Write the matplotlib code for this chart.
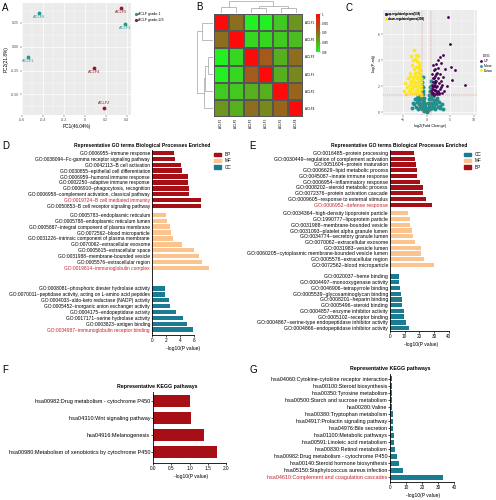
import matplotlib
matplotlib.use("Agg")
import matplotlib.pyplot as plt
import numpy as np
from matplotlib.colors import LinearSegmentedColormap
from matplotlib.lines import Line2D
from matplotlib.patches import Patch

plt.rcParams["font.family"] = ["Liberation Sans", "DejaVu Sans"]

W, H = 496, 500

# ---- panel A: PCA ----
pca_names = ["ACLF6", "ACLF5", "ACLF3", "ACLF1", "ACLF4", "ACLF2"]
pca_pc1 = [-0.44, 0.345, 0.38, -0.545, 0.09, 0.18]
pca_pc2 = [0.355, 0.41, 0.24, -0.11, -0.22, -0.64]
pca_group = ["ACLF grade-1", "ACLF grade-2/3", "ACLF grade-1", "ACLF grade-1",
             "ACLF grade-2/3", "ACLF grade-2/3"]

# ---- panel B: correlation heatmap ----
heat_labels = ["ACLF1", "ACLF6", "ACLF3", "ACLF5", "ACLF2", "ACLF4"]
heat_corr = [
    [1.000, 0.990, 0.980, 0.980, 0.983, 0.987],
    [0.990, 1.000, 0.982, 0.982, 0.983, 0.984],
    [0.980, 0.982, 1.000, 0.992, 0.985, 0.990],
    [0.980, 0.982, 0.992, 1.000, 0.985, 0.988],
    [0.983, 0.983, 0.985, 0.985, 1.000, 0.991],
    [0.987, 0.985, 0.990, 0.988, 0.991, 1.000],
]
# merges in leaf order: (node a, node b, height); new nodes numbered from 6
row_tree = [(2, 3, 0.35), (6, 4, 0.5), (7, 5, 0.6), (0, 1, 0.7), (9, 8, 1.0)]
col_tree = [(2, 3, 0.4), (4, 5, 0.45), (6, 7, 0.6), (0, 1, 0.5), (9, 8, 1.0)]
cbar_ticks = [0.98, 0.985, 0.99, 0.995, 1.0]
cbar_ticklabels = ["0.98", "0.985", "0.99", "0.995", "1"]

# ---- panel C: volcano ----
up_x = [1.1, 1.2, 1.3, 1.2, 1.4, 1.5, 1.6, 1.5, 1.7, 1.8, 1.9, 1.9, 2.0, 2.1, 2.2, 2.2,
        2.3, 2.4, 2.5, 2.5, 2.6, 2.7, 2.8, 2.9, 3.0, 3.1, 3.2, 3.3, 3.4, 2.8, 2.4, 3.6,
        3.8, 4.0, 4.3, 4.6, 4.9, 5.3, 5.5, 6.0, 8.1, 1.3, 1.8, 2.0, 1.1, 1.6, 1.4, 1.7,
        2.1, 1.2, 1.5, 2.3, 1.0, 1.9, 2.6, 3.0, 1.3, 2.0]
up_y = [1.4, 1.8, 2.3, 2.9, 1.5, 2.1, 2.6, 3.2, 1.7, 2.2, 1.4, 2.8, 1.9, 2.4, 1.5, 3.0,
        2.0, 2.6, 1.6, 3.4, 2.2, 1.4, 2.9, 1.8, 2.4, 3.8, 1.5, 2.1, 4.4, 4.2, 4.0, 2.7,
        1.6, 3.3, 2.0, 7.3, 5.2, 3.5, 2.5, 3.2, 2.1, 3.6, 3.3, 3.7, 2.1, 1.3, 1.9, 2.4,
        1.6, 1.5, 1.7, 1.4, 1.6, 2.0, 1.5, 1.9, 2.6, 2.9]
down_x = [-1.1, -1.2, -1.3, -1.1, -1.4, -1.5, -1.6, -1.7, -1.8, -1.9, -2.0, -2.0, -2.1,
          -2.2, -2.3, -2.4, -2.5, -2.5, -2.6, -2.7, -2.8, -2.9, -3.0, -3.1, -3.2, -3.3,
          -3.4, -3.5, -3.6, -3.8, -3.9, -4.1, -4.3, -4.5, -1.3, -1.7, -2.2, -1.2, -1.5,
          -1.8, -2.1, -2.4, -2.7, -3.0, -1.1, -1.4, -1.6, -1.9, -2.3, -2.6, -1.2, -1.8,
          -2.0, -2.8, -3.2, -1.4, -4.7, -2.9, -1.5, -2.2, -3.6, -2.5, -1.9, -3.4]
down_y = [1.4, 1.8, 2.2, 2.6, 1.5, 2.0, 2.8, 1.6, 2.3, 3.1, 1.4, 2.0, 2.6, 3.5, 1.7, 2.3,
          3.0, 4.1, 4.8, 1.5, 2.0, 2.7, 3.6, 1.8, 2.4, 4.3, 1.5, 3.0, 2.1, 1.6, 2.6, 1.9,
          1.4, 2.2, 3.2, 3.8, 4.4, 1.3, 2.5, 1.9, 1.6, 2.9, 3.3, 2.3, 2.0, 1.8, 3.4, 1.5,
          2.7, 2.0, 2.3, 2.7, 3.9, 2.5, 1.8, 2.9, 1.6, 4.0, 3.6, 1.5, 2.8, 2.1, 4.3, 2.3]
none_x = [-3.0, -2.6, -2.4, -2.2, -2.0, -1.9, -1.8, -1.6, -1.5, -1.4, -1.2, -1.1, -1.0,
          -0.9, -0.8, -0.7, -0.6, -0.5, -0.4, -0.3, -0.2, 0.0, 0.2, 0.3, 0.4, 0.5, 0.6,
          0.7, 0.8, 0.9, 1.0, 1.1, 1.3, 1.4, 1.6, 1.7, 1.9, 2.0, 2.2, 2.4, 2.6, 2.9, 3.2,
          3.5, -0.9, -0.8, -0.9, -0.7, -0.6, -0.85, -0.5, -0.4, 0.4, 0.5, 0.6, 0.7, 0.8,
          0.9, 0.75, 0.9, -0.95, 0.95, -0.1, 0.1, -1.3, 1.2, -2.8, 2.8, -0.65, 0.65,
          -2.1, -1.7, -1.3, -0.9, 0.9, 1.5, 1.8, 2.3, -0.75, 0.75, -1.0, 1.0]
none_y = [0.3, 0.6, 1.0, 0.4, 0.8, 1.2, 0.2, 0.6, 1.0, 0.3, 0.7, 1.1, 0.2, 0.5, 0.9, 0.3,
          0.6, 0.1, 0.4, 0.2, 0.05, 0.02, 0.1, 0.3, 0.15, 0.5, 0.3, 0.7, 0.2, 0.5, 1.0,
          0.3, 0.7, 1.2, 0.4, 0.9, 0.2, 0.6, 1.1, 0.4, 0.8, 0.3, 0.6, 0.2, 1.5, 1.9, 2.3,
          1.4, 1.1, 2.7, 0.8, 0.6, 0.7, 1.0, 1.3, 1.6, 1.9, 2.4, 1.2, 1.4, 2.0, 2.0, 0.15,
          0.2, 0.4, 0.5, 0.7, 0.5, 1.6, 1.6, 1.1, 0.9, 1.2, 1.0, 1.0, 0.9, 0.7, 0.9, 0.5,
          0.5, 0.6, 0.6]
n_up, n_down = 538, 308

# ---- panel D: GO terms ----
d_bp_terms = ["GO:0006955~immune response",
              "GO:0038094~Fc-gamma receptor signaling pathway",
              "GO:0042113~B cell activation",
              "GO:0030855~epithelial cell differentiation",
              "GO:0006959~humoral immune response",
              "GO:0002250~adaptive immune response",
              "GO:0006910~phagocytosis, recognition",
              "GO:0006958~complement activation, classical pathway",
              "GO:0019724~B cell mediated immunity",
              "GO:0050853~B cell receptor signaling pathway"]
d_bp_vals = [3.1, 3.3, 4.1, 4.2, 5.1, 5.1, 5.3, 5.3, 6.9, 7.0]
d_mf_terms = ["GO:0005783~endoplasmic reticulum",
              "GO:0005788~endoplasmic reticulum lumen",
              "GO:0005887~integral component of plasma membrane",
              "GO:0072562~blood microparticle",
              "GO:0031226~intrinsic component of plasma membrane",
              "GO:0070062~extracellular exosome",
              "GO:0005615~extracellular space",
              "GO:0031988~membrane-bounded vesicle",
              "GO:0005576~extracellular region",
              "GO:0019814~immunoglobulin complex"]
d_mf_vals = [2.0, 2.1, 2.5, 2.7, 3.0, 4.2, 6.0, 6.7, 7.1, 8.0]
d_cc_terms = ["GO:0008081~phosphoric diester hydrolase activity",
              "GO:0070011~peptidase activity, acting on L-amino acid peptides",
              "GO:0004033~aldo-keto reductase (NADP) activity",
              "GO:0005452~inorganic anion exchanger activity",
              "GO:0004175~endopeptidase activity",
              "GO:0017171~serine hydrolase activity",
              "GO:0003823~antigen binding",
              "GO:0034987~immunoglobulin receptor binding"]
d_cc_vals = [1.9, 1.9, 2.4, 2.6, 3.4, 4.4, 4.9, 5.8]
d_red = ["GO:0019724~B cell mediated immunity", "GO:0019814~immunoglobulin complex",
         "GO:0034987~immunoglobulin receptor binding"]

# ---- panel E: GO terms ----
e_bp_terms = ["GO:0016485~protein processing",
              "GO:0030449~regulation of complement activation",
              "GO:0051604~protein maturation",
              "GO:0006629~lipid metabolic process",
              "GO:0045087~innate immune response",
              "GO:0006954~inflammatory response",
              "GO:0008202~steroid metabolic process",
              "GO:0072376~protein activation cascade",
              "GO:0009605~response to external stimulus",
              "GO:0006952~defense response"]
e_bp_vals = [16.6, 16.8, 17.5, 18.2, 18.4, 20.5, 22.5, 22.7, 24.8, 28.4]
e_mf_terms = ["GO:0034364~high-density lipoprotein particle",
              "GO:1990777~lipoprotein particle",
              "GO:0031988~membrane-bounded vesicle",
              "GO:0031093~platelet alpha granule lumen",
              "GO:0034774~secretory granule lumen",
              "GO:0070062~extracellular exosome",
              "GO:0031983~vesicle lumen",
              "GO:0060205~cytoplasmic membrane-bounded vesicle lumen",
              "GO:0005576~extracellular region",
              "GO:0072562~blood microparticle"]
e_mf_vals = [12.3, 13.6, 13.9, 14.8, 15.5, 17.3, 21.1, 21.4, 23.4, 29.8]
e_cc_terms = ["GO:0020037~heme binding",
              "GO:0004497~monooxygenase activity",
              "GO:0046906~tetrapyrrole binding",
              "GO:0005539~glycosaminoglycan binding",
              "GO:0008201~heparin binding",
              "GO:0005496~steroid binding",
              "GO:0004857~enzyme inhibitor activity",
              "GO:0005102~receptor binding",
              "GO:0004867~serine-type endopeptidase inhibitor activity",
              "GO:0004866~endopeptidase inhibitor activity"]
e_cc_vals = [6.4, 6.4, 6.8, 7.5, 8.2, 8.4, 9.5, 9.5, 10.9, 13.2]
e_red = ["GO:0006952~defense response"]

# ---- panels F, G: KEGG ----
f_terms = ["hsa00982:Drug metabolism - cytochrome P450",
           "hsa04310:Wnt signaling pathway",
           "hsa04916:Melanogenesis",
           "hsa00980:Metabolism of xenobiotics by cytochrome P450"]
f_vals = [1.02, 1.05, 1.40, 1.75]
g_terms = ["hsa04060:Cytokine-cytokine receptor interaction",
           "hsa00100:Steroid biosynthesis",
           "hsa00350:Tyrosine metabolism",
           "hsa00500:Starch and sucrose metabolism",
           "hsa00280:Valine",
           "hsa00380:Tryptophan metabolism",
           "hsa04917:Prolactin signaling pathway",
           "hsa04976:Bile secretion",
           "hsa01100:Metabolic pathways",
           "hsa00591:Linoleic acid metabolism",
           "hsa00830:Retinol metabolism",
           "hsa00982:Drug metabolism - cytochrome P450",
           "hsa00140:Steroid hormone biosynthesis",
           "hsa05150:Staphylococcus aureus infection",
           "hsa04610:Complement and coagulation cascades"]
g_vals = [1.0, 1.2, 1.3, 1.4, 1.5, 1.6, 1.7, 1.8, 2.2, 2.3, 3.3, 4.1, 5.5, 7.8, 33.0]
g_red = ["hsa04610:Complement and coagulation cascades"]

BP_C = "#A50F15"
MF_C = "#FBC38D"
CC_C = "#1B7B93"
RED_TXT = "#C0262D"
TEAL_PT = "#1E9A8E"
RED_PT = "#8E1B2E"
UP_C, NONE_C, DOWN_C = "#440154", "#21908C", "#FDE725"

fig = plt.figure(figsize=(W / 100, H / 100), dpi=100)


def px_axes(x0, y0, x1, y1):
    return fig.add_axes([x0 / W, 1 - y1 / H, (x1 - x0) / W, (y1 - y0) / H])


def fig_text(x, y, s, **kw):
    fig.text(x / W, 1 - y / H, s, **kw)


def gg_style(ax):
    ax.set_facecolor("#EBEBEB")
    for sp in ax.spines.values():
        sp.set_visible(False)
    ax.grid(True, which="major", color="white", lw=0.5)
    ax.grid(True, which="minor", color="white", lw=0.25)
    ax.set_axisbelow(True)
    ax.tick_params(which="major", length=1.2, width=0.3, color="#333333",
                   labelsize=2.6, pad=1, labelcolor="#4D4D4D")
    ax.tick_params(which="minor", length=0)


# ---------------- A ----------------
ax = px_axes(22, 3, 131, 115)
gg_style(ax)
grp_col = {"ACLF grade-1": TEAL_PT, "ACLF grade-2/3": RED_PT}
label_dy = [-0.04, -0.04, -0.04, -0.04, -0.04, 0.045]
for name, x, y, g, dy in zip(pca_names, pca_pc1, pca_pc2, pca_group, label_dy):
    ax.scatter(x, y, s=3, color=grp_col[g], zorder=3)
    ax.text(x, y + dy, name, color=grp_col[g], fontsize=2.8, ha="center", va="center")
ax.set_xlim(-0.59, 0.44)
ax.set_ylim(-0.716, 0.46)
ax.set_xticks([-0.6, -0.4, -0.2, 0, 0.2, 0.4])
ax.set_xticklabels(["-0.6", "-0.4", "-0.2", "0", "0.2", "0.4"])
ax.set_xticks([-0.5, -0.3, -0.1, 0.1, 0.3], minor=True)
ax.set_yticks([-0.5, -0.25, 0, 0.25])
ax.set_yticklabels(["-0.50", "-0.25", "0.00", "0.25"])
ax.set_yticks([-0.625, -0.375, -0.125, 0.125, 0.375], minor=True)
ax.set_xlabel("PC1(46.04%)", fontsize=3.4, labelpad=1.5)
ax.set_ylabel("PC2(21.8%)", fontsize=3.4, labelpad=1.5)
hd = [Line2D([], [], marker="o", ls="", ms=1.3, color=grp_col[k], label=k)
      for k in grp_col]
fig.legend(handles=hd, loc="upper left", bbox_to_anchor=(133 / W, 1 - 11 / H),
           fontsize=2.6, frameon=False, handlelength=0.6, handletextpad=0.3,
           labelspacing=0.4, borderaxespad=0)

# ---------------- B ----------------
corr = np.array(heat_corr)
n_s = len(heat_labels)
cmap = LinearSegmentedColormap.from_list("gr", ["#22F022", "#8C6E1E", "#FF0A0A"])
axh = px_axes(214, 14, 303, 117)
mesh = axh.pcolormesh(np.arange(n_s + 1), np.arange(n_s + 1), corr, cmap=cmap,
                      vmin=0.98, vmax=1.0, edgecolors="#555555", linewidth=0.25)
axh.set_xlim(0, n_s)
axh.set_ylim(n_s, 0)
axh.set_xticks(np.arange(n_s) + 0.5)
axh.set_xticklabels(heat_labels, rotation=90, fontsize=2.2)
axh.set_yticks(np.arange(n_s) + 0.5)
axh.set_yticklabels(heat_labels, fontsize=2.2)
axh.yaxis.tick_right()
axh.tick_params(length=0, pad=1.5)
for sp in axh.spines.values():
    sp.set_visible(False)


def draw_tree(ax, merges, n, side):
    pos = {i: i + 0.5 for i in range(n)}
    hgt = {i: 0.0 for i in range(n)}
    for k, (a, b, h) in enumerate(merges):
        xs = [pos[a], pos[a], pos[b], pos[b]]
        ys = [hgt[a], h, h, hgt[b]]
        if side == "top":
            ax.plot(xs, ys, color="#8A8A8A", lw=0.4, solid_capstyle="butt")
        else:
            ax.plot(ys, xs, color="#8A8A8A", lw=0.4, solid_capstyle="butt")
        pos[n + k] = (pos[a] + pos[b]) / 2
        hgt[n + k] = h
    ax.set_axis_off()


axr = px_axes(197, 14, 213, 117)
draw_tree(axr, row_tree, n_s, "left")
axr.set_ylim(n_s, 0)
axr.set_xlim(1.02, 0)
axc = px_axes(214, 1, 303, 13)
draw_tree(axc, col_tree, n_s, "top")
axc.set_xlim(0, n_s)
axc.set_ylim(0, 1.02)
axcb = px_axes(316, 14, 320, 52)
cb = fig.colorbar(mesh, cax=axcb, ticks=cbar_ticks)
cb.ax.set_yticklabels(cbar_ticklabels)
cb.ax.tick_params(labelsize=2.0, length=0.8, width=0.2, pad=0.8)
cb.outline.set_visible(False)

# ---------------- C ----------------
ax = px_axes(383, 10, 477, 115)
gg_style(ax)
ax.scatter(none_x, none_y, s=8, color=NONE_C, lw=0, zorder=2)
ax.scatter(down_x, down_y, s=7, color=DOWN_C, lw=0, zorder=2)
ax.scatter(up_x, up_y, s=4, color=UP_C, lw=0, zorder=2)
for xv in (-1, 1):
    ax.axvline(xv, color="#E06666", lw=0.35, ls=(0, (2, 2)), zorder=3)
ax.axhline(-np.log10(0.05), color="#E06666", lw=0.35, ls=(0, (2, 2)), zorder=3)
ax.set_xlim(-9.26, 10.74)
ax.set_ylim(-0.23, 7.85)
ax.set_xticks([-5, 0, 5, 10])
ax.set_xticks([-7.5, -2.5, 2.5, 7.5], minor=True)
ax.set_yticks([0, 2, 4, 6])
ax.set_yticks([1, 3, 5, 7], minor=True)
ax.set_xlabel("log2(Fold Change)", fontsize=2.8, labelpad=1.5)
ax.set_ylabel("-log(P-adj)", fontsize=2.8, labelpad=1.5)
h_in = [Line2D([], [], marker="o", ls="", ms=1.0, color=UP_C,
               label=f"up-regulated genes({n_up})"),
        Line2D([], [], marker="o", ls="", ms=1.0, color=DOWN_C,
               label=f"down-regulated genes({n_down})")]
leg_in = ax.legend(handles=h_in, loc="upper left", fontsize=2.1, frameon=False,
                   handlelength=0.5, handletextpad=0.3, labelspacing=0.3,
                   borderaxespad=0.4)
ax.add_artist(leg_in)
h_deg = [Line2D([], [], marker="o", ls="", ms=1.0, color=c, label=l)
         for c, l in ((UP_C, "UP"), (NONE_C, "None"), (DOWN_C, "Down"))]
fig.legend(handles=h_deg, title="DEG", loc="upper left",
           bbox_to_anchor=(479 / W, 1 - 53 / H), fontsize=2.6, title_fontsize=2.6,
           frameon=False, handlelength=0.5, handletextpad=0.3, labelspacing=0.2,
           borderaxespad=0)


# ---------------- bar helpers ----------------
def style_bar_axes(ax, xmax_spine, xticks):
    ax.tick_params(axis="x", length=1.2, width=0.5, labelsize=3.4, pad=1)
    ax.set_xticks(xticks)
    ax.spines["top"].set_visible(False)
    ax.spines["right"].set_visible(False)
    ax.spines["left"].set_linewidth(0.6)
    ax.spines["bottom"].set_linewidth(0.6)
    ax.spines["bottom"].set_bounds(0, xmax_spine)
    ax.set_xlabel("-log10(P value)", fontsize=3.6, labelpad=2)


def color_labels(ax, red):
    for t in ax.get_yticklabels():
        if t.get_text() in red:
            t.set_color(RED_TXT)


def go_panel(ax, groups, gaps, red, xmax_spine, xticks, fsize):
    labels, ypos = [], []
    start = 0.0
    for (terms, vals, col), gap in zip(groups, gaps):
        start += gap
        y = start + np.arange(len(terms))
        ax.barh(y, vals, height=0.75, color=col, lw=0)
        labels += terms
        ypos += list(y)
        start = y[-1] + 1
    ax.set_yticks(ypos)
    ax.set_yticklabels(labels, fontsize=fsize)
    color_labels(ax, red)
    ax.tick_params(axis="y", length=0, pad=1.5)
    style_bar_axes(ax, xmax_spine, xticks)


# ---------------- D ----------------
ax = px_axes(152, 150, 215, 335)
go_panel(ax, [(d_bp_terms, d_bp_vals, BP_C), (d_mf_terms, d_mf_vals, MF_C),
              (d_cc_terms, d_cc_vals, CC_C)], [0, 0.5, 2.5], d_red, 6, [0, 2, 4, 6],
         3.5)
ax.set_xlim(0, 63 / 7.07)
ax.set_ylim(30.9, -0.51)
ax.set_title("Representative GO terms Biological Processes Enriched", fontsize=3.6,
             fontweight="bold", x=-0.16, pad=2.5)
hd = [Patch(color=c, label=l) for c, l in ((BP_C, "BP"), (MF_C, "MF"), (CC_C, "CC"))]
fig.legend(handles=hd, loc="upper left", bbox_to_anchor=(212 / W, 1 - 150 / H),
           fontsize=3.4, frameon=False, handlelength=1.6, handleheight=0.7,
           handletextpad=0.6, labelspacing=0.3, borderaxespad=0)

# ---------------- E ----------------
ax = px_axes(390, 150, 452, 331)
go_panel(ax, [(e_bp_terms, e_bp_vals, BP_C), (e_mf_terms, e_mf_vals, MF_C),
              (e_cc_terms, e_cc_vals, CC_C)], [0, 0.5, 1.0], e_red, 40,
         [0, 10, 20, 30, 40], 3.7)
ax.set_xlim(0, 62 / 1.47)
ax.set_ylim(31.0, -0.52)
ax.set_title("Representative GO terms Biological Processes Enriched", fontsize=3.6,
             fontweight="bold", x=0.15, pad=2.5)
hd = [Patch(color=c, label=l) for c, l in ((CC_C, "CC"), (MF_C, "MF"), (BP_C, "BP"))]
fig.legend(handles=hd, loc="upper left", bbox_to_anchor=(462 / W, 1 - 150 / H),
           fontsize=3.4, frameon=False, handlelength=1.6, handleheight=0.7,
           handletextpad=0.6, labelspacing=0.3, borderaxespad=0)


def kegg_panel(ax, terms, vals, col, red, height, fsize, xmax_spine, xticks, xtl):
    y = np.arange(len(terms))
    ax.barh(y, vals, height=height, color=col, lw=0)
    ax.set_yticks(y)
    ax.set_yticklabels(terms, fontsize=fsize)
    color_labels(ax, red)
    ax.tick_params(axis="y", length=1.2, width=0.5, pad=0.8)
    style_bar_axes(ax, xmax_spine, xticks)
    ax.set_xticklabels(xtl)
    ax.set_title("Representative KEGG pathways", fontsize=3.8, fontweight="bold",
                 pad=3)


# ---------------- F ----------------
ax = px_axes(153, 392, 230, 463)
kegg_panel(ax, f_terms, f_vals, BP_C, [], 0.7, 4.0, 2.0, [0, 0.5, 1.0, 1.5, 2.0],
           ["0.0", "0.5", "1.0", "1.5", "2.0"])
ax.set_xlim(0, 77 / 36.6)
ax.set_ylim(3.65, -0.53)
ax.title.set_x(0.05)

# ---------------- G ----------------
ax = px_axes(390, 374, 456, 482)
kegg_panel(ax, g_terms, g_vals, CC_C, g_red, 0.72, 3.9, 40, [0, 10, 20, 30, 40],
           ["0", "10", "20", "30", "40"])
ax.set_xlim(0, 41)
ax.set_ylim(14.7, -0.71)
ax.title.set_x(0.0)

# panel letters
for lt, x, y in (("A", 2, 8), ("B", 196, 7), ("C", 346, 8), ("D", 2, 146),
                 ("E", 249, 146), ("F", 2, 370), ("G", 249, 370)):
    fig_text(x, y, lt, fontsize=7, va="center", ha="left")

fig.savefig("out.png", dpi=100)
